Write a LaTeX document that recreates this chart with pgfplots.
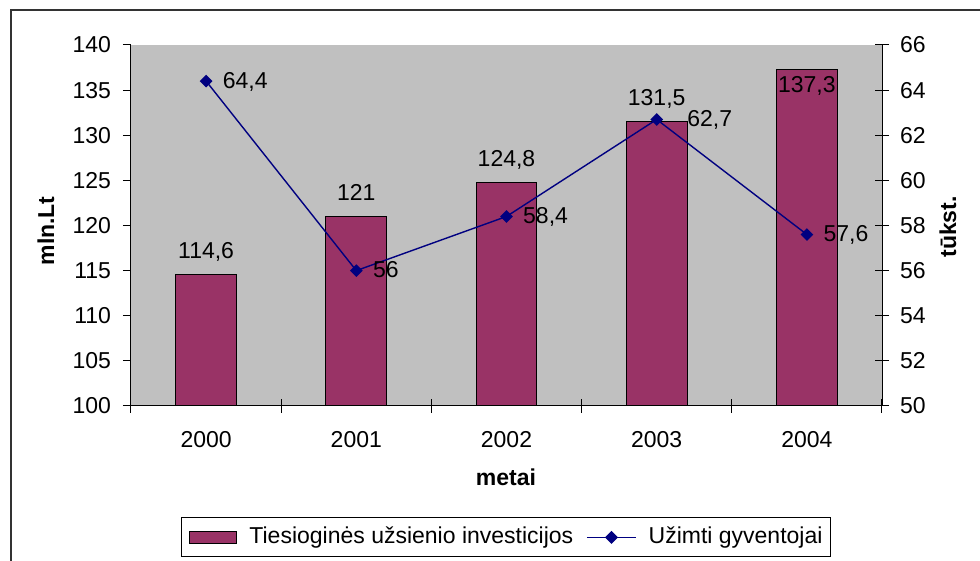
\documentclass[border=0pt]{standalone}
\usepackage{fontspec}
\setmainfont{Liberation Sans}
\usepackage{pgfplots}
\usepackage{pgfplotstable}
\pgfplotsset{compat=1.18}
\definecolor{barc}{HTML}{993366}
\definecolor{bgc}{HTML}{C0C0C0}
\definecolor{navyc}{HTML}{000080}

\pgfplotstableread{
x y off
0 114.6 7.9
1 121 7.9
2 124.8 7.9
3 131.5 7.9
4 137.3 -11.6
}\bars
\pgfplotstableread{
x y off
0 64.4 8
1 56 8
2 58.4 8
3 62.7 15
4 57.6 8
}\emp

\begin{document}
\begin{tikzpicture}[font=\fontsize{11.5}{13.5}\selectfont]
\useasboundingbox (-65.5pt,-77.5pt) rectangle (424.5pt,203pt);
\draw[line width=0.6pt, black!80] (-60pt,-80pt) -- (-60pt,198pt) -- (430pt,198pt);
\pgfplotsset{
  /pgf/number format/.cd, use comma, 1000 sep={}, assume math mode=true,
  /pgfplots/.cd,
  every axis/.append style={scale only axis, width=375.5pt, height=180.5pt,
    xmin=-0.5, xmax=4.5, at={(0,0)}, anchor=south west,
    axis line style={-, line width=0.5pt, black},
    every tick/.style={black, line width=0.5pt}},
}
\begin{axis}[
  axis background/.style={fill=bgc},
  axis x line*=bottom, axis y line*=left,
  ymin=100, ymax=140, ytick={100,105,...,140},
  ytick align=outside, major tick length=4pt,
  xtick={0,1,2,3,4}, xticklabels={2000,2001,2002,2003,2004},
  major x tick style={draw=none},
  minor xtick={-0.5,0.5,1.5,2.5,3.5,4.5},
  minor tick length=7pt, xtick align=center,
  minor x tick style={black, line width=0.5pt},
  xticklabel style={yshift=-7pt},
  yticklabel style={xshift=-2.5pt},
  xlabel={metai},
  xlabel style={at={(axis description cs:0.4993,-0.221)}, anchor=base, font=\fontsize{11.5}{13.5}\selectfont\bfseries},
  ylabel={mln.Lt},
  ylabel style={at={(axis description cs:-0.1132,0.485)}, anchor=center, font=\fontsize{11.5}{13.5}\selectfont\bfseries},
  legend style={at={(axis description cs:0.4993,-0.364)}, anchor=center,
    draw=black, line width=0.5pt, fill=white,
    inner xsep=4pt, inner ysep=4.3pt,
    nodes={inner sep=0pt, anchor=west, text height=8.5pt, text depth=2.4pt},
    /tikz/every odd column/.style={column sep=6pt},
    /tikz/every even column/.style={column sep=6.5pt}},
  legend columns=2,
]
\addplot[ybar, bar width=0.406, fill=barc, draw=black, line width=0.5pt,
  forget plot,
  visualization depends on={\thisrow{off}\as\boff},
  nodes near coords,
  nodes near coords style={anchor=base, inner sep=0pt, yshift=\boff pt, black}]
  table[x=x,y=y] {\bars};
\addlegendimage{legend image code/.code={\draw[fill=barc,draw=black,line width=0.5pt] (0pt,-3pt) rectangle (23.5pt,3pt);}}
\addlegendentry{Tiesioginės užsienio investicijos}
\addlegendimage{legend image code/.code={\draw[navyc,line width=0.7pt] (0pt,0pt) -- (24.5pt,0pt);
  \fill[navyc] (12.25pt,2.9pt) -- (15.15pt,0pt) -- (12.25pt,-2.9pt) -- (9.35pt,0pt) -- cycle;}}
\addlegendentry{Užimti gyventojai}
\end{axis}
\begin{axis}[
  axis x line=none, axis y line*=right,
  ymin=50, ymax=66, ytick={50,52,...,66},
  ytick align=center, major tick length=7pt,
  yticklabel style={xshift=2pt},
  ylabel={tūkst.},
  ylabel style={at={(axis description cs:1.0879,0.496)}, anchor=center, font=\fontsize{11.5}{13.5}\selectfont\bfseries},
]
\addplot[navyc, line width=0.7pt, mark=square*, mark size=1.9pt,
  mark options={rotate=45, fill=navyc, draw=navyc},
  visualization depends on={\thisrow{off}\as\loff},
  nodes near coords,
  nodes near coords style={anchor=base west, inner sep=0pt, xshift=\loff pt, yshift=-3.6pt, black}]
  table[x=x,y=y] {\emp};
\end{axis}
\end{tikzpicture}
\end{document}
